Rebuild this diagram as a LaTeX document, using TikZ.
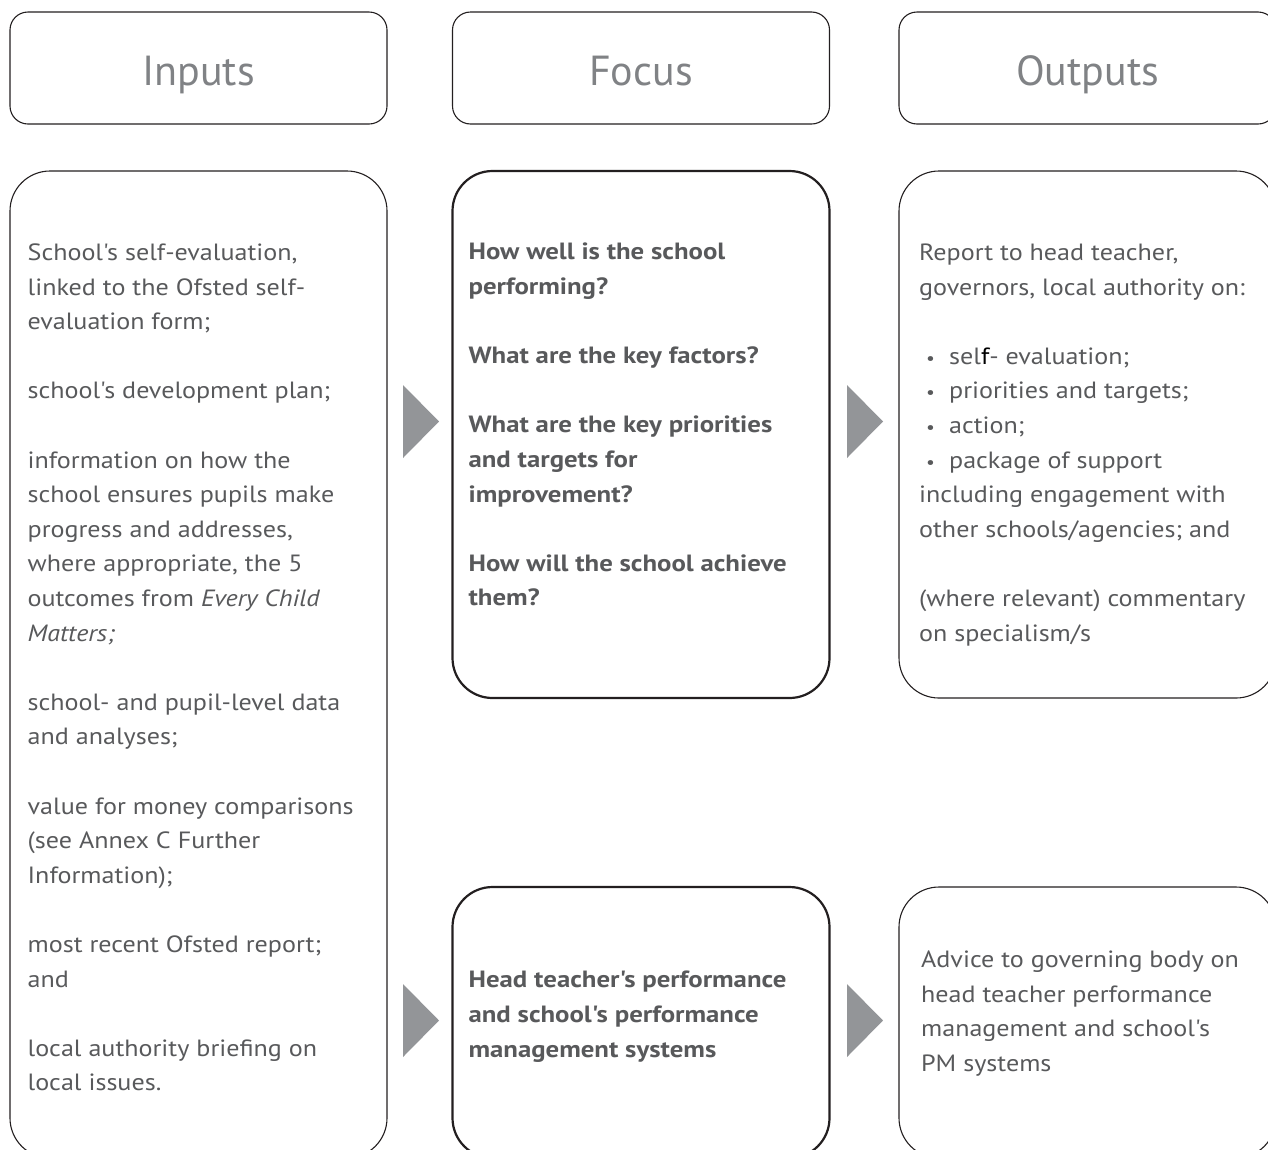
\documentclass[tikz,border=0pt]{standalone}
\usepackage{fontspec}
\setmainfont{PT Sans}[Ligatures=TeXOff, FakeStretch=1.11, BoldFeatures={FakeStretch=1.14}]
\newfontfamily\headfont{PT Sans}[Ligatures=TeXOff]
\usetikzlibrary{positioning, calc}

\definecolor{bodygray}{RGB}{88,89,91}
\definecolor{headgray}{RGB}{128,130,133}
\definecolor{trigray}{RGB}{147,149,152}
\definecolor{linegray}{RGB}{35,31,32}

\newcommand{\bul}{\makebox[30pt][l]{\hspace{7pt}\scalebox{0.75}{\textbullet}}}

\tikzset{
  hdrbox/.style={draw=linegray, line width=1.1pt, rounded corners=18pt, minimum width=377pt, minimum height=112pt, text height=40pt, text depth=6pt, text=headgray, font=\headfont\fontsize{42}{50}\selectfont},
  bigbox/.style={draw=linegray, line width=1.1pt, rounded corners=40pt, minimum width=377pt, inner sep=0pt},
  focusbox/.style={bigbox, line width=2.2pt},
  bodytext/.style={anchor=base west, inner sep=0pt, text=bodygray, font=\fontsize{23.5}{34.6}\selectfont},
  pointer/.style={fill=trigray}
}

\begin{document}
\begin{tikzpicture}[x=1pt, y=-1pt]
\useasboundingbox (0,0) rectangle (1268,1149);
\clip (0,0) rectangle (1268,1149);

\node[hdrbox] (inHdr)  at (198.5,68)  {Inputs};
\node[hdrbox] (focHdr) at (641,68)    {Focus};
\node[hdrbox] (outHdr) at (1087.5,68) {Outputs};

\node[bigbox, minimum height=987pt]   (inBox)  at (198.5,664.5)  {};
\node[focusbox, minimum height=527pt] (focTop) at (641,434.5)    {};
\node[bigbox, minimum height=527pt]   (outTop) at (1087.5,434.5) {};
\node[focusbox, minimum height=271pt] (focBot) at (641,1022.5)   {};
\node[bigbox, minimum height=271pt]   (outBot) at (1087.5,1022.5) {};

\node[bodytext] (inText) at ($(inBox.north west)+(18,90)$) {\parbox[t]{350pt}{\raggedright
  School's self-evaluation,\\
  linked to the Ofsted self-\\
  evaluation form;\\[34.6pt]
  school's development plan;\\[34.6pt]
  information on how the\\
  school ensures pupils make\\
  progress and addresses,\\
  where appropriate, the 5\\
  outcomes from \textit{Every Child}\\
  \textit{Matters;}\\[34.6pt]
  school- and pupil-level data\\
  and analyses;\\[34.6pt]
  value for money comparisons\\
  (see Annex C Further\\
  Information);\\[34.6pt]
  most recent Ofsted report;\\
  and\\[34.6pt]
  local authority briefing on\\
  local issues.}};

\node[bodytext, font=\fontsize{23.5}{34.6}\selectfont\bfseries] (focText) at ($(focTop.north west)+(17,90)$) {\parbox[t]{350pt}{\raggedright
  How well is the school\\
  performing?\\[34.6pt]
  What are the key factors?\\[34.6pt]
  What are the key priorities\\
  and targets for\\
  improvement?\\[34.6pt]
  How will the school achieve\\
  them?}};

\node[bodytext] (outText) at ($(outTop.north west)+(20.5,90)$) {\parbox[t]{350pt}{\raggedright
  Report to head teacher,\\
  governors, local authority on:\\[34.6pt]
  \bul sel{\color{black}f}- evaluation;\\
  \bul priorities and targets;\\
  \bul action;\\
  \bul package of support\\
  including engagement with\\
  other schools/agencies; and\\[34.6pt]
  (where relevant) commentary\\
  on specialism/s}};

\node[bodytext, font=\fontsize{23.5}{34.6}\selectfont\bfseries] (focBotText) at ($(focBot.north west)+(17,102)$) {\parbox[t]{350pt}{\raggedright
  Head teacher's performance\\
  and school's performance\\
  management systems}};

\node[bodytext] (outBotText) at ($(outBot.north west)+(22.5,81)$) {\parbox[t]{350pt}{\raggedright
  Advice to governing body on\\
  head teacher performance\\
  management and school's\\
  PM systems}};

\fill[pointer] (403,385) -- (439,421.5) -- (403,458) -- cycle;
\fill[pointer] (847,385) -- (883,421.5) -- (847,458) -- cycle;
\fill[pointer] (403,984) -- (439,1020.5) -- (403,1057) -- cycle;
\fill[pointer] (847,984) -- (883,1020.5) -- (847,1057) -- cycle;
\end{tikzpicture}
\end{document}
